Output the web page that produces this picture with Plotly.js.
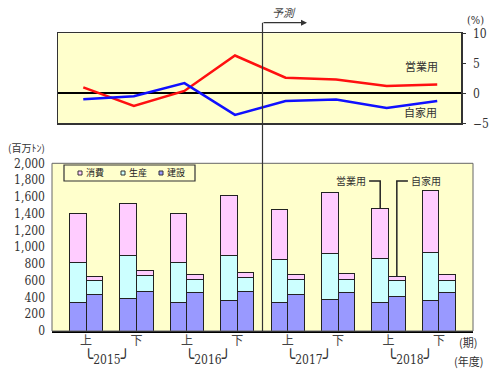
<!DOCTYPE html>
<html>
<head>
<meta charset="utf-8">
<script src="https://cdn.plot.ly/plotly-3.0.1.min.js"></script>
<style>html,body{margin:0;padding:0;background:#fff;}#chart{width:500px;height:383px;}</style>
</head>
<body>
<div id="chart"></div>
<script>
// ---- data ----
const periods = ['上','下','上','下','上','下','上','下'];
const years = ['2015','2016','2017','2018'];
const growthEigyo = [1.0, -2.1, 0.4, 6.3, 2.6, 2.3, 1.2, 1.45];   // 営業用 (%)
const growthJika  = [-1.0, -0.5, 1.7, -3.6, -1.3, -1.05, -2.45, -1.3]; // 自家用 (%)
const eigyoKensetsu = [340, 385, 340, 360, 345, 375, 345, 365];
const eigyoSeisan   = [480, 510, 480, 540, 505, 550, 515, 575];
const eigyoShohi    = [580, 625, 580, 715, 600, 725, 600, 735];
const jikaKensetsu  = [440, 475, 460, 475, 440, 460, 415, 455];
const jikaSeisan    = [165, 185, 160, 160, 175, 155, 185, 150];
const jikaShohi     = [50, 65, 55, 65, 60, 70, 45, 65];
const catNames = ['消費','生産','建設'];
const catColors = ['#FFCCFF','#CCFFFF','#9999FF'];

// ---- geometry helpers ----
const W = 500, H = 383, ML = 52, MR = 27;
const px = x => (x - ML) / (W - ML - MR);
const py = y => 1 - y / H;
const half = 0.165, bw = 0.33;
const idx = periods.map((_, i) => i);
const xE = idx.map(i => i - half);
const xJ = idx.map(i => i + half);

const serif = '"DejaVu Serif Condensed", "Liberation Serif", serif';
const jp = '"Noto Sans CJK JP", sans-serif';
const barLine = {color: '#222', width: 1};

const traces = [];
function addBar(x, y, ci) {
  traces.push({type: 'bar', x: x, y: y, width: bw, xaxis: 'x', yaxis: 'y',
    marker: {color: catColors[ci], line: barLine}, showlegend: false, name: catNames[ci]});
}
addBar(xE, eigyoKensetsu, 2); addBar(xE, eigyoSeisan, 1); addBar(xE, eigyoShohi, 0);
addBar(xJ, jikaKensetsu, 2); addBar(xJ, jikaSeisan, 1); addBar(xJ, jikaShohi, 0);
traces.push({type: 'scatter', mode: 'lines', x: idx, y: growthEigyo, xaxis: 'x2', yaxis: 'y2',
  line: {color: '#FF1010', width: 2.5}, showlegend: false, name: '営業用'});
traces.push({type: 'scatter', mode: 'lines', x: idx, y: growthJika, xaxis: 'x2', yaxis: 'y2',
  line: {color: '#1010FF', width: 2.5}, showlegend: false, name: '自家用'});

const eTot = idx.map(i => eigyoKensetsu[i] + eigyoSeisan[i] + eigyoShohi[i]);
const jTot = idx.map(i => jikaKensetsu[i] + jikaSeisan[i] + jikaShohi[i]);
const lead = 6, leadY = 1790;

const shapes = [
  // legend box
  {type: 'rect', xref: 'paper', yref: 'paper', x0: px(64), x1: px(195), y0: py(181), y1: py(165),
   line: {color: '#333', width: 1.2}, fillcolor: '#FFFFCC'},
  // bottom plot frame
  {type: 'rect', xref: 'paper', yref: 'paper', x0: 0, x1: 1, y0: py(331), y1: py(163.3),
   line: {color: '#666', width: 1}, fillcolor: 'rgba(0,0,0,0)'},
  // forecast vertical line
  {type: 'line', xref: 'x', yref: 'paper', x0: 3.5, x1: 3.5, y0: py(331), y1: py(22.7),
   line: {color: '#333', width: 1.2}},
  // leader lines
  {type: 'path', xref: 'x', yref: 'y',
   path: `M ${xE[lead]} ${eTot[lead]} L ${xE[lead]} ${leadY} L ${xE[lead] - 0.22} ${leadY}`,
   line: {color: '#222', width: 1.5}},
  {type: 'path', xref: 'x', yref: 'y',
   path: `M ${xJ[lead]} ${jTot[lead]} L ${xJ[lead]} ${leadY} L ${xJ[lead] + 0.22} ${leadY}`,
   line: {color: '#222', width: 1.5}}
];
const legX = [78, 121, 159];
catNames.forEach((n, k) => {
  shapes.push({type: 'rect', xref: 'paper', yref: 'paper', x0: px(legX[k]), x1: px(legX[k] + 4),
    y0: py(175), y1: py(171), line: {color: '#333', width: 1}, fillcolor: catColors[k]});
});

const ann = (o) => Object.assign({xref: 'paper', yref: 'paper', showarrow: false,
  xanchor: 'center', yanchor: 'middle',
  font: {family: jp, size: 11, color: '#333'}}, o);
const annotations = [
  ann({x: px(26), y: py(147.5), text: '(百万ﾄﾝ)', font: {family: jp, size: 10, color: '#333'}}),
  ann({x: px(475), y: py(20.7), text: '(%)', font: {family: serif, size: 11, color: '#333'}}),
  ann({x: px(421), y: py(66), text: '営業用'}),
  ann({x: px(420), y: py(112), text: '自家用'}),
  ann({x: px(284), y: py(12), text: '<i>予測</i>', font: {family: jp, size: 11, color: '#444'}}),
  ann({x: px(468), y: py(342), text: '(期)', font: {family: jp, size: 11, color: '#333'}}),
  ann({x: px(468), y: py(361), text: '(年度)', font: {family: jp, size: 11, color: '#333'}}),
  {xref: 'paper', yref: 'paper', x: px(307), y: py(22.7), ax: -45, ay: 0, text: '',
   showarrow: true, arrowhead: 2, arrowsize: 1, arrowwidth: 1.2, arrowcolor: '#333'},
  ann({xref: 'x', yref: 'y', x: xE[lead] - 0.24, y: leadY, xanchor: 'right', text: '営業用',
       font: {family: jp, size: 10, color: '#333'}}),
  ann({xref: 'x', yref: 'y', x: xJ[lead] + 0.24, y: leadY, xanchor: 'left', text: '自家用',
       font: {family: jp, size: 10, color: '#333'}})
];
catNames.forEach((n, k) => {
  annotations.push(ann({x: px(legX[k] + 6), y: py(173), xanchor: 'left', text: n,
    font: {family: jp, size: 9, color: '#222'}}));
});
const br = s => '<span style="font-size:17px">' + s + '</span>';
years.forEach((yr, k) => {
  annotations.push(ann({xref: 'x', x: 2 * k + 0.5, xshift: -4, y: py(358), text: br('╰') + yr + br('╯'),
    font: {family: serif, size: 12, color: '#333'}}));
});

const layout = {
  width: W, height: H,
  margin: {l: ML, r: MR, t: 0, b: 0, pad: 0},
  paper_bgcolor: '#ffffff', plot_bgcolor: '#FFFFCC',
  barmode: 'stack', bargap: 0, showlegend: false,
  xaxis: {domain: [0, 1], anchor: 'y', range: [-0.676, 7.676], tickvals: idx, ticktext: periods,
    ticks: '', showline: true, linecolor: '#000', linewidth: 2, showgrid: false, zeroline: false,
    ticklabelstandoff: -2,
    tickfont: {family: jp, size: 12, color: '#444'}, automargin: false},
  yaxis: {domain: [py(331), py(163.3)], anchor: 'x', range: [0, 2000], dtick: 200, tickformat: ',d',
    showgrid: false, zeroline: false, showline: false, ticks: '', ticklabelstandoff: 6,
    tickfont: {family: serif, size: 12, color: '#333'}, automargin: false},
  xaxis2: {domain: [px(58), px(461)], anchor: 'y2', range: [-0.5, 7.47], showticklabels: false,
    ticks: '', showline: true, mirror: true, linecolor: '#333', linewidth: 1.5, showgrid: false,
    zeroline: false, automargin: false},
  yaxis2: {domain: [py(123.3), py(33.3)], anchor: 'x2', side: 'right', range: [-5, 10], dtick: 5,
    showline: true, mirror: true, linecolor: '#333', linewidth: 1.5, ticks: 'outside', ticklen: 3,
    tickcolor: '#333', showgrid: false, zeroline: true, zerolinecolor: '#000', zerolinewidth: 2,
    ticklabelstandoff: 5, tickfont: {family: serif, size: 12, color: '#333'}, automargin: false},
  shapes: shapes,
  annotations: annotations
};

Plotly.newPlot('chart', traces, layout, {displayModeBar: false, staticPlot: true});
</script>
</body>
</html>
